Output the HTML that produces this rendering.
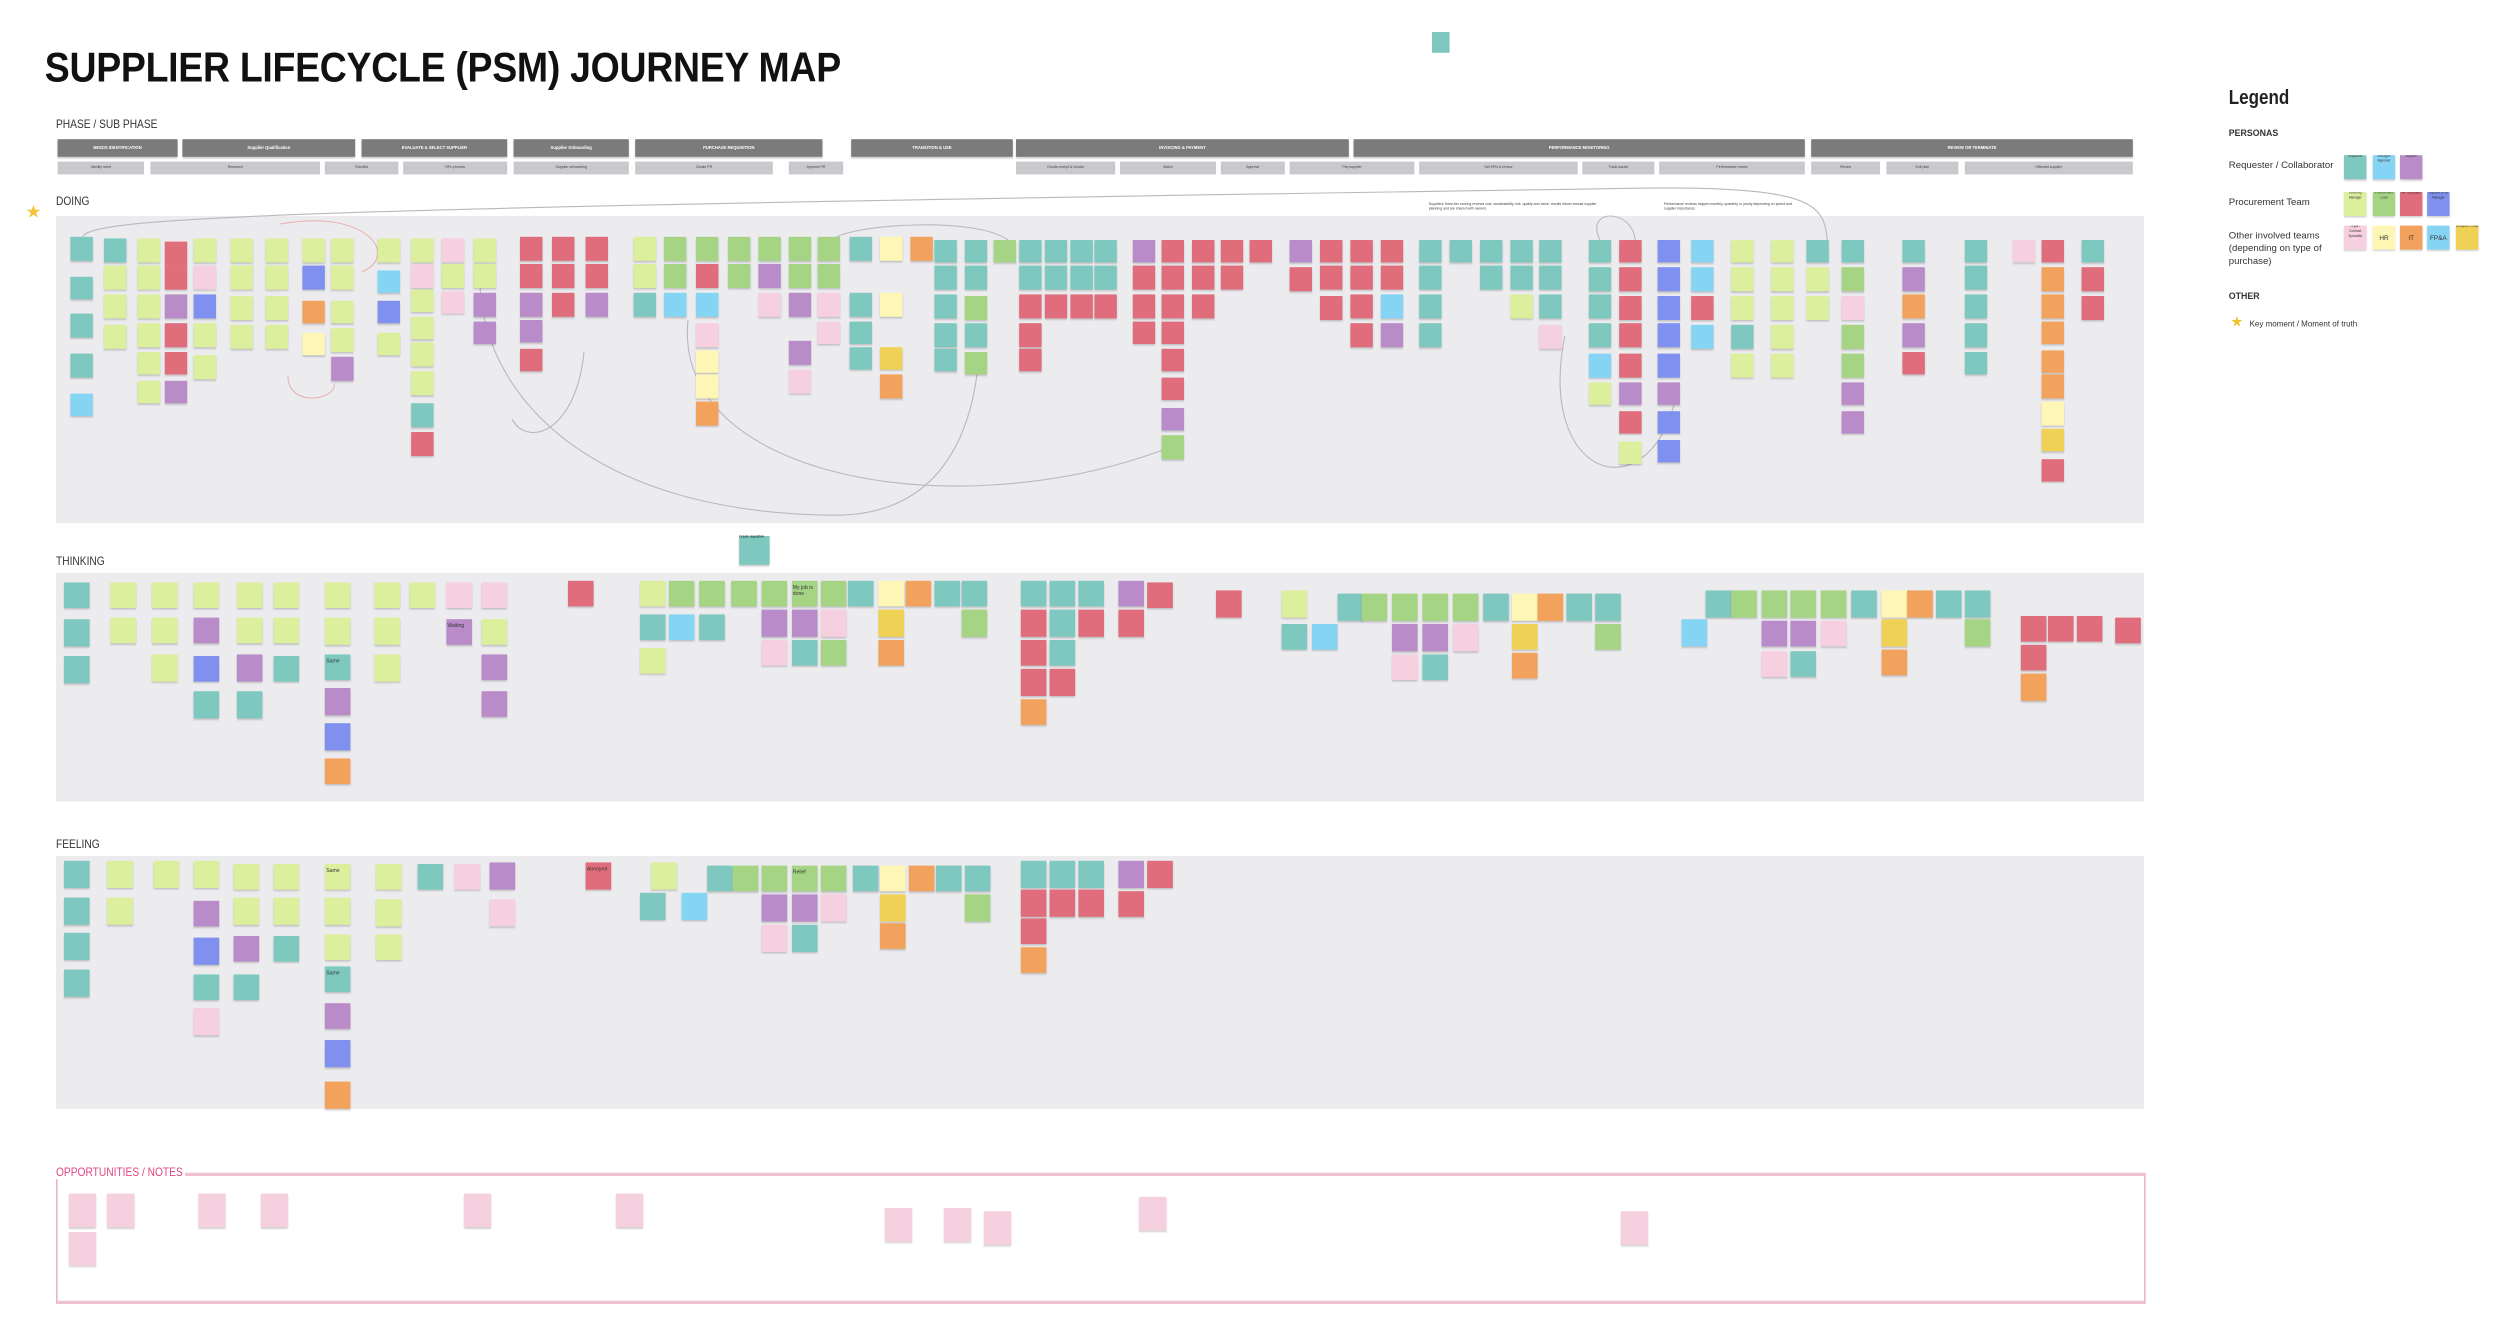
<!DOCTYPE html>
<html><head><meta charset="utf-8">
<style>
html,body{margin:0;padding:0;background:#fff;}
body{width:2500px;height:1344px;overflow:hidden;position:relative;font-family:"Liberation Sans",sans-serif;}
#w{position:absolute;left:0;top:0;width:1562.5px;height:840px;transform:scale(1.6);transform-origin:0 0;}
.abs{position:absolute;}
.st{position:absolute;box-shadow:0 1px 1px rgba(0,0,0,.18);font-size:2px;color:#333;overflow:hidden;}
.ph{position:absolute;top:87px;height:11px;background:#7b7b7b;color:#fff;font-size:2.6px;font-weight:bold;text-align:center;line-height:11px;box-shadow:0 1px 1px rgba(0,0,0,.2);}
.sp{position:absolute;top:101px;height:8px;background:#c9c9cd;color:#444;font-size:2.2px;text-align:center;line-height:8px;}
.lane{position:absolute;left:35px;width:1305px;background:#ececef;}
.lbl{position:absolute;left:35px;font-size:7.5px;color:#333;transform:scaleX(.85);transform-origin:0 0;}
.gb{position:absolute;height:2.5px;background:#b5b5b8;}
.lg{position:absolute;font-size:6px;color:#333;}
</style></head><body>
<div id="w">
<div class="abs" style="left:28px;top:27px;font-size:26px;font-weight:bold;color:#111;letter-spacing:-0.2px;transform:scaleX(.9);transform-origin:0 0;white-space:nowrap;">SUPPLIER LIFECYCLE (PSM) JOURNEY MAP</div>
<div class="abs" style="left:895px;top:20px;width:11px;height:13px;background:#7fc8c0;"></div>
<div class="lbl" style="top:73px;">PHASE / SUB PHASE</div>
<div id="phases"></div>
<div class="lbl" style="top:121px;">DOING</div>
<div class="abs" style="left:16px;top:126px;font-size:11px;color:#f3c233;">★</div>
<div class="lane" style="top:135px;height:192px;"></div>
<div class="lbl" style="top:346px;">THINKING</div>
<div class="lane" style="top:358px;height:143px;"></div>
<div class="lbl" style="top:523px;">FEELING</div>
<div class="lane" style="top:535px;height:158px;"></div>
<div class="abs" style="left:35px;top:733px;width:1304px;height:78px;border:1px solid #eab4cc;border-top:2px solid #efc0d4;border-bottom:2px solid #efc0d4;"></div>
<div class="lbl" style="top:728px;color:#e0447f;background:#fff;padding-right:2px;">OPPORTUNITIES / NOTES</div>
<div class="abs" style="left:893px;top:127px;width:105px;font-size:2.2px;line-height:3px;color:#444;">Suppliers' three-tier scoring reviews cost, sustainability, risk, quality and value; results inform annual supplier planning and are shared with owners.</div>
<div class="abs" style="left:1040px;top:127px;width:82px;font-size:2.2px;line-height:3px;color:#444;">Performance reviews happen monthly, quarterly or yearly depending on spend and supplier importance.</div>
<svg class="abs" style="left:0;top:0;" width="1562" height="840">
<g fill="none" stroke="#b9b9bd" stroke-width="0.7">
<path d="M52 148 C55 135 200 130 1000 118 C1130 115 1140 125 1142 150"/>
<path d="M300 175 C300 240 360 320 520 322 C600 323 610 250 612 220"/>
<path d="M430 200 C420 300 600 330 730 280"/>
<path d="M520 150 C530 140 610 135 630 150"/>
<path d="M1000 150 C990 130 1020 130 1022 150"/>
<path d="M978 210 C960 300 1030 320 1047 250"/>
<path d="M365 220 C360 270 330 280 320 262"/>
<path d="M209 240 C210 250 180 255 180 235" stroke="#e6b5b5"/>
<path d="M175 140 C230 130 250 160 226 170" stroke="#e6b5b5"/>
</g></svg>
<div class="abs" style="left:462px;top:335px;width:19px;height:18px;background:#7fc8c0;box-shadow:0 1px 1px rgba(0,0,0,.2);font-size:2px;">Create requisition</div>
<div id="stickies"></div>
<div id="legend">
<div class="abs" style="left:1393px;top:54px;font-size:12.5px;font-weight:bold;color:#222;transform:scaleX(.85);transform-origin:0 0;">Legend</div>
<div class="lg" style="left:1393px;top:81px;font-weight:bold;font-size:5.5px;">PERSONAS</div>
<div class="lg" style="left:1393px;top:101px;">Requester / Collaborator</div>
<div class="lg" style="left:1393px;top:124px;">Procurement Team</div>
<div class="lg" style="left:1393px;top:144px;width:65px;line-height:8px;">Other involved teams (depending on type of purchase)</div>
<div class="lg" style="left:1393px;top:183px;font-weight:bold;font-size:5.5px;">OTHER</div>
<div class="abs" style="left:1394px;top:196px;font-size:9px;color:#f3c233;">★</div>
<div class="lg" style="left:1406px;top:200px;font-size:5px;">Key moment / Moment of truth</div>
</div>
</div>
<script>
// phase data
const phaseNames = ["NEEDS IDENTIFICATION","Supplier Qualification","EVALUATE & SELECT SUPPLIER","Supplier Onboarding","PURCHASE REQUISITION","TRANSITION & USE","INVOICING & PAYMENT","PERFORMANCE MONITORING","REVIEW OR TERMINATE"];
const phaseStart = [36,114,226,321,397,532,635,846,1132];
const phaseEnd = [111,222,317,393,514,633,843,1128,1333];
const subStart = [36,94,203,252,321,397,493,635,700,763,806,887,989,1037,1132,1179,1228];
const subEnd = [90,200,249,317,393,483,527,697,760,803,884,986,1034,1128,1175,1224,1333];
const subNames = ["Identify need","Research","Shortlist","RFx process","Supplier onboarding","Create PR","Approve PR","Goods receipt & invoice","Match","Approve","Pay supplier","Set KPIs & review","Track issues","Performance review","Renew","Exit plan","Offboard supplier"];

const P = document.getElementById('phases');
for (let i = 0; i < phaseNames.length; i++) {
  const d = document.createElement('div');
  d.className = 'ph';
  d.style.left = phaseStart[i] + 'px';
  d.style.width = (phaseEnd[i] - phaseStart[i]) + 'px';
  d.textContent = phaseNames[i];
  
  
  P.appendChild(d);
}
for (let i = 0; i < subStart.length; i++) {
  const d = document.createElement('div');
  d.className = 'sp';
  d.style.left = subStart[i] + 'px';
  d.style.width = (subEnd[i] - subStart[i]) + 'px';
  d.textContent = subNames[i];
  
  
  P.appendChild(d);
}
const grayBarX = [145,253,325,403,566];
const grayBarW = [39,43,65,37,16];
for (let i = 0; i < grayBarX.length; i++) {
  const d = document.createElement('div');
  d.className = 'gb';
  d.style.left = grayBarX[i] + 'px';
  d.style.top = (i === 4 ? 138 : 142) + 'px';
  d.style.width = grayBarW[i] + 'px';
  
  
  P.appendChild(d);
}

const COL = {t:'#7fc8c0',l:'#dcef9c',g:'#a5d484',r:'#e06d7c',p:'#b98bc8',b:'#7f90ef',c:'#86d4f3',k:'#f7d0e0',y:'#fdf6b4',o:'#f2a25c',Y:'#efd155'};

// doing columns (reference crop coords)
const doingA = ["88:t665,t773,t880,t990,c1100","130:t668,l745,l825,l910","172:l668,l745,l825,l905,l985,l1065","206:r678,r745,p825,r905,r985,p1065","242:l668,k745,b825,l905,l995","288:l668,l745,l830,l910","333:l668,l745,l830,l910","380:l668,b745,o840,y930","416:l668,l745,l840,l920,p1000","473:l668,c755,b840,l930","516:l668,k740,l810,l885,l960,l1040,t1130,r1210","553:k668,l740,k815","593:l668,l740,p820,p900","652:r665,r740,p820,p895,r975","692:r665,r740,r820","735:r665,r740,p820","795:l665,l740,t820","833:g665,g740,c820","872:g665,r740,c820,k905,y980,y1050,o1125","912:g665,g740","950:g665,p740,k820","988:g665,g740,p820,p955,k1035","1025:g665,g740,k820,k900","1066:t665,t820,t900,t970","1104:y665,y820,Y970,o1050","1142:o665","1172:t670,t745,t825,t905,t975","1210:t670,t745,g830,t905,g985","1245:g670","1278:t670,t745,r825,r905,r975","1310:t670,t745,r825","1342:t670,t745,r825","1373:t670,t745,r825","1420:p670,r745,r825,r900","1456:r670,r745,r825,r900,r975,r1055,p1140,g1220","1495:r670,r745,r825","1530:r670,r745"];
const doingB = ["0:r670","50:p670,r750","87:r670,r745,r830","125:r670,r745,r825,r905","163:r670,r745,c825,p905","213:t670,t745,t825,t905","251:t670","288:t670,t745","326:t670,t745,l825","363:t670,t745,t825,k910","424:t670,t750,t825,t905,c990,l1070","463:r670,r750,r830,r905,r990,p1070,r1150,l1235","511:b670,b750,b830,b905,b990,p1070,b1150,b1230","553:c670,c750,r830,c910","604:l670,l750,l830,t910,l990","654:l670,l750,l830,l910,l990","698:t670,l750,l830","741:t670,g750,k830,g910,g990,p1070,p1150","818:t670,p750,o825,p905,r985","896:t670,t745,t825,t905,t985","957:k670","993:r670,o750,o825,o900,o980,o1050,y1125,Y1200,r1285","1043:t670,r750,r830"];
// thinking & feeling columns (reference crop coords, column centres)
const thinkA = ["97:t113,t215,t315","155:l113,l208","207:l113,l208,l310","258:l113,p208,b312,t410","313:l113,l208,p310,t410","358:l113,l208,t312","423:l113,l210,t308,p400,b495,o590","486:l113,l210,l310","529:l113","575:k113,p213","620:k113,l213,p308,p408","729:r108","818:l108,t200,l290","855:g108,c200","893:g108,t200","933:g108","971:g108,p188,k270","1008:g108,p188,t270","1045:g108,k188,g270","1080:t108","1117:y108,Y188,o268","1152:o108","1187:t108","1222:t108,g188"];
const thinkB = ["42:t108,r188,r268,r348,o428","78:t108,t188,t268,r348","113:t108,r188","163:p108,r190","199:r113","285:r138","369:l138,t225","406:c225","438:t145","468:g145","507:g145,p228,k308","544:g145,p228,t308","583:g145,k228","620:t145","656:y145,Y225,o303","690:o145","726:t145","762:t145,g225","869:c215","900:t138","932:g138","970:g138,p218,k300","1007:g138,p218,t300","1045:g138,k218","1083:t138","1120:y138,Y215,o295","1153:o138","1188:t138","1225:t138,g215","1295:r205,r283,o362","1330:r205","1366:r205","1413:r208"];
const feelA = ["97:t868,t968,t1062,t1162","150:l868,l968","208:l868","258:l868,p975,b1075,t1172,k1265","308:l875,l968,p1070,t1172","358:l875,l968,t1070","423:l875,l968,l1065,t1152,p1250,b1352,o1465","488:l875,l972,l1065","540:t875","585:k875","630:p872,k972","750:r872","818:t955","833:l872","870:c955","902:t878","935:g878","971:g878,p958,k1040","1008:g878,p958,t1040","1046:g878,k958","1085:t878","1120:y878,Y958,o1035","1155:o878","1190:t878","1225:t878,g958"];
const feelB = ["42:t868,r945,r1022,o1100","78:t868,r945","113:t868,r945","163:p868,r948","199:r868"];
const oppX = [43,67,124,163,290,385,553,590,615,712,1013];
const oppY = [746,746,746,746,746,746,755,755,757,748,757];
const wordsT = {"423:308":"Same","575:213":"Waiting","1008:108":"My job is done"};
const wordsF = {"423:875":"Same","423:1152":"Same","1008:878":"Relief","750:872":"Annoyed"};

const S = document.getElementById('stickies');
function place(list, fx, fy, w, h, lane, words) {
  for (const col of list) {
    const [xs, items] = col.split(':');
    const xz = parseFloat(xs);
    for (const it of items.split(',')) {
      const c = it[0];
      const yz = parseFloat(it.slice(1));
      const d = document.createElement('div');
      d.className = 'st';
      d.style.left = fx(xz).toFixed(1) + 'px';
      d.style.top = fy(yz).toFixed(1) + 'px';
      d.style.width = w + 'px';
      d.style.height = h + 'px';
      d.style.background = COL[c];
      const key = xs + ':' + yz;
      if (words && words[key]) { d.textContent = words[key]; d.style.fontSize = '3.2px'; d.style.padding = '2px 1px'; d.style.boxSizing = 'border-box'; }
      
      
      S.appendChild(d);
    }
  }
}
const fxA = x => x / 2.006;
const fxB = x => x * 0.4984 + 781.25;
const fyD = y => y / 4.48;
const fyT = y => (540 + y / 2.703) / 1.6;
const fxTA = x => x / 2.006 - 8;
const fxT2 = x => (1000 + x / 1.254) / 1.6 - 7.5;
place(doingA, fxA, fyD, 14, 14.5, 'doing');
place(doingB, fxB, fyD, 14, 14.5, 'doing');
place(thinkA, fxTA, fyT, 16, 16.5, 'thinking', wordsT);
place(thinkB, fxT2, fyT, 16, 16.5, 'thinking', wordsT);
place(feelA, fxTA, fyT, 16, 16.5, 'feeling', wordsF);
place(feelB, fxT2, fyT, 16, 16.5, 'feeling', wordsF);
for (let i = 0; i < oppX.length; i++) {
  const d = document.createElement('div');
  d.className = 'st';
  d.style.left = oppX[i] + 'px';
  d.style.top = oppY[i] + 'px';
  d.style.width = '17px';
  d.style.height = '21px';
  d.style.background = '#f7d0e0';
  
  
  S.appendChild(d);
}
const d0 = document.createElement('div');
d0.className = 'st';
d0.style.cssText += 'left:43px;top:770px;width:17px;height:21px;background:#f7d0e0;';


S.appendChild(d0);

// legend swatches
const L = document.getElementById('legend');
const legX = [1465,1483,1500,1517,1535];
const legRowY = [97,120,141];
const legRows = ["tcp","lgrb","kyocY"];
const legText = [["Requester","Manager/ Approver","Supplier"],["Sourcing Manager","Procurement Lead","AP Specialist","Supplier (PM) Manager"],["Legal / Contract Specialist","HR","IT","FP&A","Analytics / Data"]];
for (let r = 0; r < legRows.length; r++) {
  for (let i = 0; i < legRows[r].length; i++) {
    const d = document.createElement('div');
    d.className = 'st';
    d.style.left = legX[i] + 'px';
    d.style.top = legRowY[r] + 'px';
    d.style.width = '14px';
    d.style.height = '15px';
    d.style.background = COL[legRows[r][i]];
    d.style.textAlign = 'center';
    d.style.fontSize = (legText[r][i].length <= 4 ? '4px' : '2px');
    d.style.lineHeight = (legText[r][i].length <= 4 ? '15px' : '3px');
    d.textContent = legText[r][i];
    
    
    L.appendChild(d);
  }
}
</script>
</body></html>
